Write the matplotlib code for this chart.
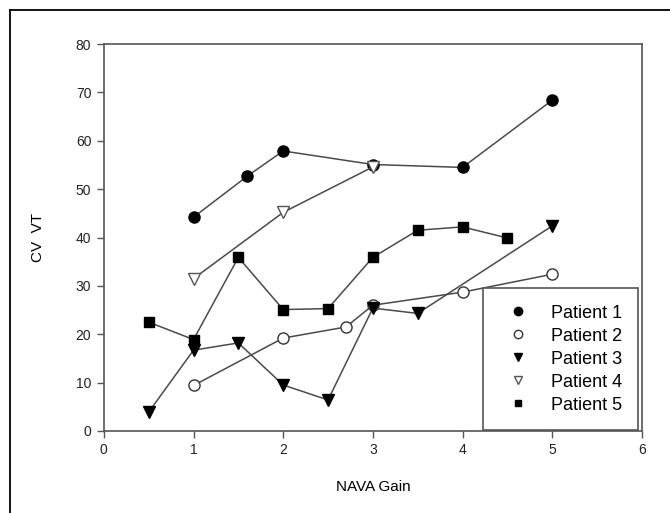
# CV of tidal volume vs NAVA gain, five patients
import matplotlib
matplotlib.use('Agg')
import matplotlib.pyplot as plt
from matplotlib.lines import Line2D

plt.rcParams['font.family'] = ['Liberation Sans', 'DejaVu Sans']

# data
p1_x = [1, 1.6, 2, 3, 4, 5]
p1_y = [44.2, 52.7, 57.9, 55.1, 54.5, 68.4]

p2_x = [1, 2, 2.7, 3, 4, 5]
p2_y = [9.4, 19.2, 21.5, 26.0, 28.7, 32.4]

p3_x = [0.5, 1, 1.5, 2, 2.5, 3, 3.5, 5]
p3_y = [3.9, 16.7, 18.2, 9.5, 6.4, 25.4, 24.3, 42.4]

p4_x = [1, 2, 3]
p4_y = [31.5, 45.2, 54.6]

p5_x = [0.5, 1, 1.5, 2, 2.5, 3, 3.5, 4, 4.5]
p5_y = [22.5, 18.9, 35.9, 25.1, 25.3, 35.9, 41.5, 42.2, 39.9]

labels = ['Patient 1', 'Patient 2', 'Patient 3', 'Patient 4', 'Patient 5']

fig = plt.figure(figsize=(6.7, 5.13), dpi=100)
ax = fig.add_axes([0.155, 0.160, 0.803, 0.754])

line_col = '#4a4a4a'
series = [
    (p1_x, p1_y, dict(marker='o', ms=8, mfc='black', mec='black')),
    (p2_x, p2_y, dict(marker='o', ms=8, mfc='white', mec='#333333', mew=1)),
    (p3_x, p3_y, dict(marker='v', ms=8, mfc='black', mec='black')),
    (p4_x, p4_y, dict(marker='v', ms=8, mfc='white', mec='#555555', mew=1)),
    (p5_x, p5_y, dict(marker='s', ms=7, mfc='black', mec='black')),
]
handles = []
for (x, y, st), lab in zip(series, labels):
    ax.plot(x, y, color=line_col, lw=1.1, zorder=2, **st)
    handles.append(Line2D([], [], ls='none', **{**st, 'ms': st['ms'] - 2}))

ax.set_xlim(0, 6)
ax.set_ylim(0, 80)
ax.set_xticks(range(0, 7))
ax.set_yticks(range(0, 81, 10))
for s in ax.spines.values():
    s.set_color('#555555')
    s.set_linewidth(1.2)
ax.tick_params(direction='out', length=5, width=1, color='#555555',
               labelsize=10, labelcolor='#222222', pad=4)

ax.set_xlabel('NAVA Gain', fontsize=11, labelpad=16)
ax.set_ylabel('CV  VT', fontsize=11, labelpad=22)

leg = ax.legend(handles, labels, loc='lower right', bbox_to_anchor=(0.993, 0.003),
                borderaxespad=0, fancybox=False, fontsize=13, labelspacing=0.33,
                handletextpad=0.83, borderpad=0.9, handlelength=2.0, framealpha=1)
leg.get_frame().set_edgecolor('#555555')
leg.get_frame().set_linewidth(1.2)

# outer frame (left and top only)
fig.add_artist(Line2D([0.015, 0.015], [0, 0.981], color='black', lw=1.3,
                      transform=fig.transFigure))
fig.add_artist(Line2D([0.015, 1.0], [0.981, 0.981], color='black', lw=1.3,
                      transform=fig.transFigure))

fig.savefig('out.png', dpi=100)
